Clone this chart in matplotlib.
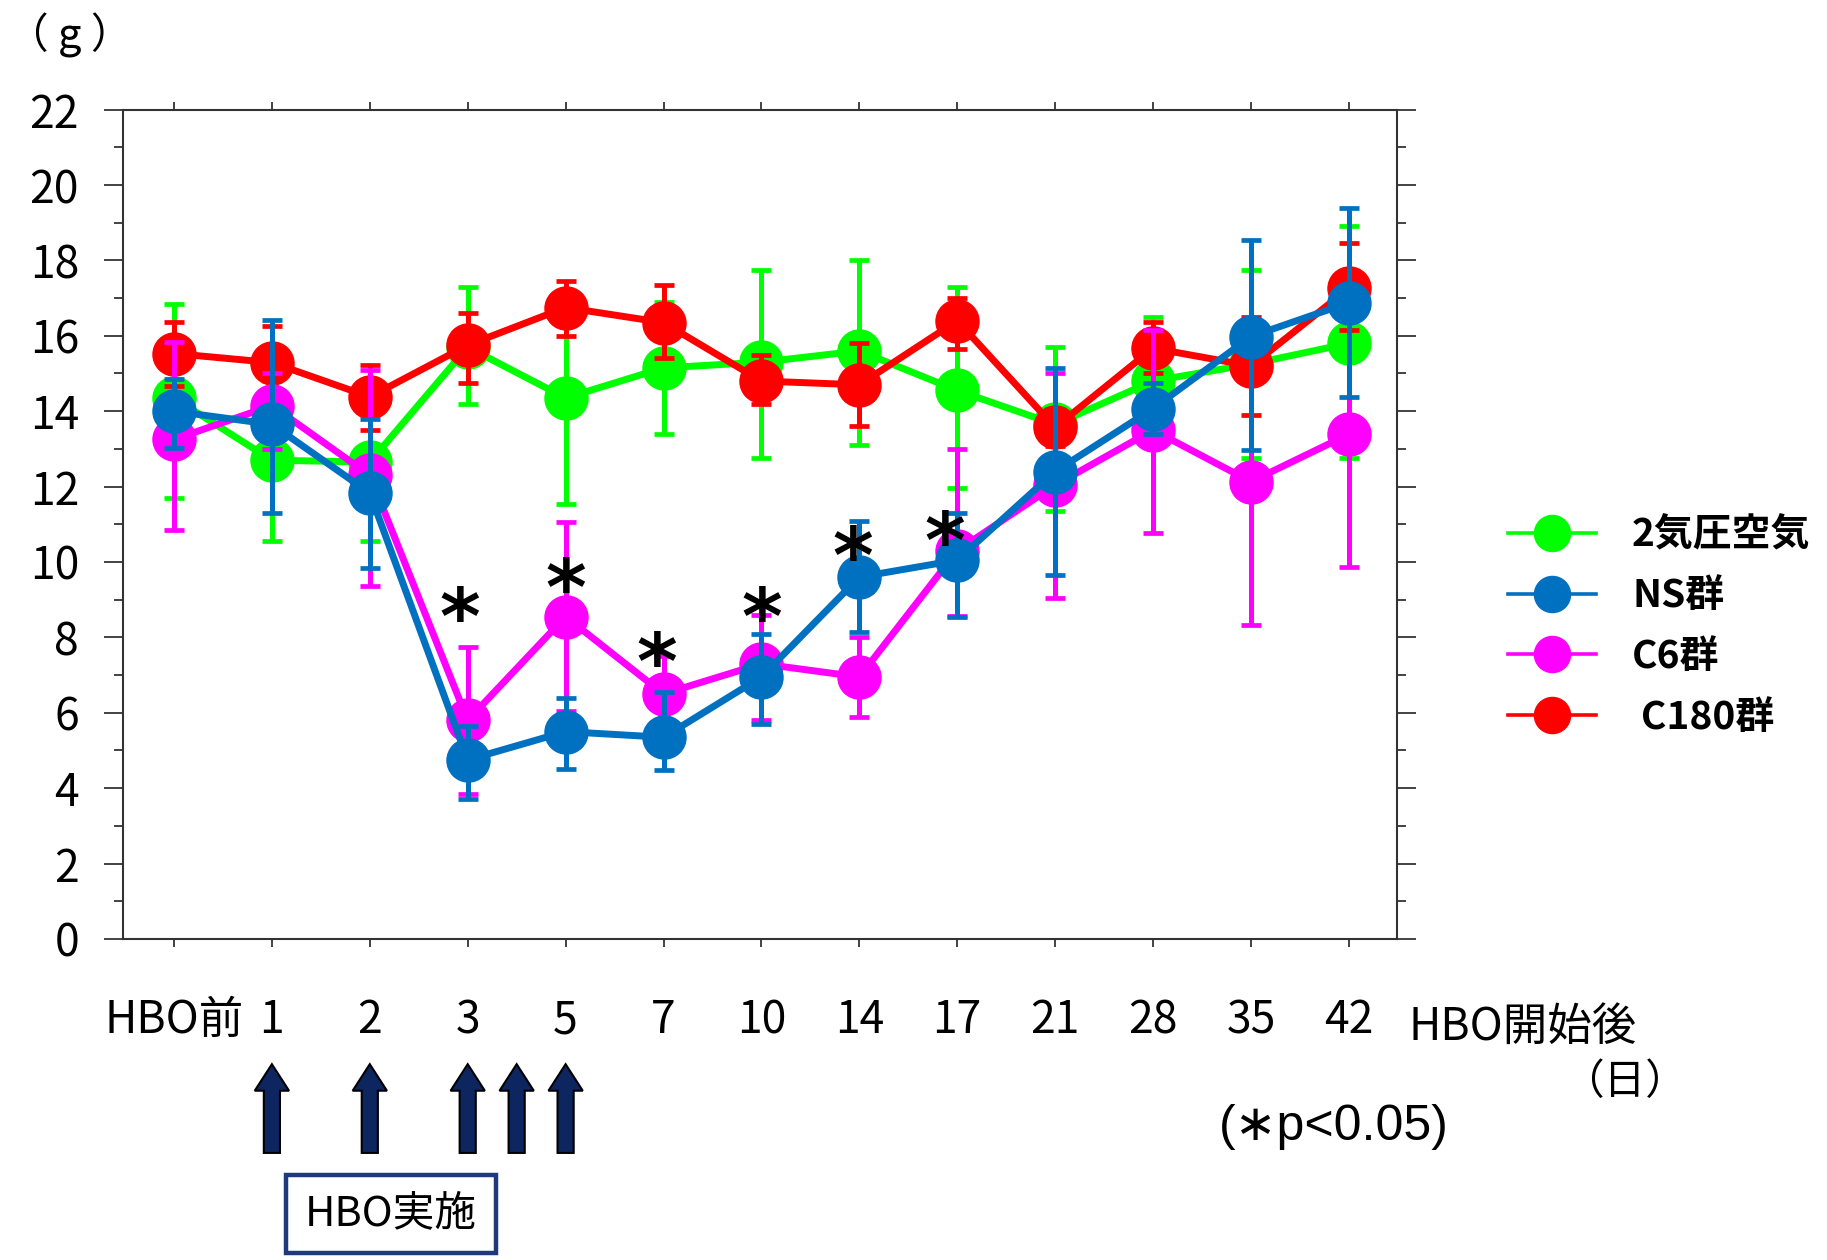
import matplotlib
matplotlib.use("Agg")
import matplotlib.pyplot as plt
from matplotlib.lines import Line2D
from matplotlib.patches import FancyArrow
from matplotlib.ticker import MultipleLocator
import matplotlib.transforms as mtransforms

plt.rcParams['font.family'] = ['Noto Sans CJK JP', 'DejaVu Sans']

# day labels along the x axis (categorical positions 0..12)
days = ["HBO前", "1", "2", "3", "5", "7", "10", "14", "17", "21", "28", "35", "42"]

# body weight (g), mean with lower / upper error
air_mean = [14.35, 12.7, 12.65, 15.7, 14.35, 15.15, 15.3, 15.6, 14.55, 13.65, 14.8, 15.25, 15.8]
air_lo   = [2.65, 2.15, 2.1, 1.5, 2.8, 1.75, 2.55, 2.5, 2.6, 2.3, 1.7, 2.5, 3.05]
air_hi   = [2.5, 2.1, 2.1, 1.6, 2.8, 1.75, 2.45, 2.4, 2.75, 2.05, 1.7, 2.5, 3.1]

ns_mean = [14.0, 13.65, 11.83, 4.75, 5.5, 5.35, 6.95, 9.6, 10.05, 12.4, 14.07, 15.98, 16.88]
ns_lo   = [0.97, 2.35, 1.98, 1.05, 1.0, 0.87, 1.25, 1.45, 1.52, 2.75, 0.68, 3.0, 2.5]
ns_hi   = [0.85, 2.77, 1.95, 0.9, 0.9, 1.2, 1.15, 1.5, 1.25, 2.75, 0.68, 2.56, 2.5]

c6_mean = [13.25, 14.15, 12.3, 5.8, 8.55, 6.5, 7.3, 6.95, 10.3, 12.04, 13.5, 12.13, 13.39]
c6_lo   = [2.4, 1.15, 2.95, 1.95, 2.5, 1.0, 1.5, 1.05, 1.72, 3.0, 2.72, 3.8, 3.53]
c6_hi   = [2.58, 0.86, 2.8, 1.95, 2.5, 1.0, 1.3, 1.05, 2.7, 2.96, 2.65, 3.8, 3.53]

c180_mean = [15.53, 15.29, 14.38, 15.75, 16.75, 16.35, 14.8, 14.7, 16.4, 13.57, 15.67, 15.2, 17.26]
c180_lo   = [0.86, 0.97, 0.88, 1.0, 0.75, 0.95, 0.6, 1.1, 0.76, 0.5, 0.67, 1.3, 1.1]
c180_hi   = [0.84, 0.97, 0.85, 0.85, 0.7, 1.0, 0.7, 1.1, 0.6, 0.5, 0.7, 1.3, 1.19]

# significance marks (x position, height)
sig_x = [2.92, 4.0, 4.93, 6.0, 6.93, 7.87]
sig_y = [8.92, 9.71, 7.73, 8.92, 10.55, 10.94]

# HBO sessions
hbo_x = [1, 2, 3, 3.5, 4]

groups = [
    ("2気圧空気", air_mean, air_lo, air_hi, "#00ff00", 3),
    ("NS群", ns_mean, ns_lo, ns_hi, "#0070c0", 6),
    ("C6群", c6_mean, c6_lo, c6_hi, "#ff00ff", 5),
    (" C180群", c180_mean, c180_lo, c180_hi, "#ff0000", 4),
]

fig = plt.figure(figsize=(18.27, 12.6), dpi=100)
ax = fig.add_axes([0.0672, 0.2548, 0.6972, 0.6582])

x = list(range(len(days)))
for name, m, lo, hi, col, z in groups:
    ax.errorbar(x, m, yerr=[lo, hi], fmt='-o', color=col, ms=31, lw=5,
                elinewidth=3.6, capsize=7, capthick=3.4, zorder=z)

for sx, sy in zip(sig_x, sig_y):
    ax.annotate("*", xy=(sx, sy), xytext=(0, -30), textcoords='offset points',
                ha='center', va='baseline', fontsize=56, fontweight='bold',
                family='DejaVu Sans', zorder=10)

ax.set_xlim(-0.523, 12.487)
ax.set_ylim(0, 22)
ax.set_xticks(x)
ax.set_xticklabels(days)
ax.yaxis.set_major_locator(MultipleLocator(2))
ax.yaxis.set_minor_locator(MultipleLocator(1))
ax.tick_params(axis='y', which='both', left=True, right=True, direction='out',
               width=1.2, colors='#222222', labelsize=32, labelcolor='black', pad=18)
ax.tick_params(axis='y', which='major', length=13.5)
ax.tick_params(axis='y', which='minor', length=6.5)
ax.tick_params(axis='x', which='major', top=True, bottom=True, direction='out',
               length=6, width=1.2, colors='#222222', labelsize=32,
               labelcolor='black', pad=36)
for sp in ax.spines.values():
    sp.set_linewidth(1.5)
    sp.set_color('#333333')

# arrows for the HBO sessions below the axis
trans = mtransforms.blended_transform_factory(ax.transData, ax.transAxes)
for hx in hbo_x:
    ax.add_patch(FancyArrow(hx, -0.258, 0, 0.107, width=0.165, head_width=0.35,
                            head_length=0.032, length_includes_head=True,
                            transform=trans, clip_on=False,
                            facecolor='#0e2660', edgecolor='black', lw=1.5))

fig.text(0.2141, 0.0365, "HBO実施", fontsize=30, ha='center', va='center',
         bbox=dict(boxstyle='square,pad=0.45', facecolor='white',
                   edgecolor='#1f3a78', linewidth=3.2))

fig.text(0.004, 0.972, "（ g ）", fontsize=30, ha='left', va='center')
fig.text(0.7712, 0.1849, "HBO開始後", fontsize=32, ha='left', va='center')
fig.text(0.8894, 0.1405, "（日）", fontsize=30, ha='center', va='center')
fig.text(0.7300, 0.1056, "(∗p<0.05)", fontsize=36, ha='center', va='center',
         family=['Liberation Sans', 'DejaVu Sans'])

handles = [Line2D([], [], color=g[4], lw=2.6, marker='o', ms=26) for g in groups]
fig.legend(handles, [g[0] for g in groups], loc='upper left',
           bbox_to_anchor=(0.8254, 0.591), frameon=False, borderpad=0,
           borderaxespad=0, handlelength=2.26, handletextpad=0.93,
           labelspacing=0.56, prop=dict(size=28, weight='bold'))

fig.savefig("out.png", dpi=100)
